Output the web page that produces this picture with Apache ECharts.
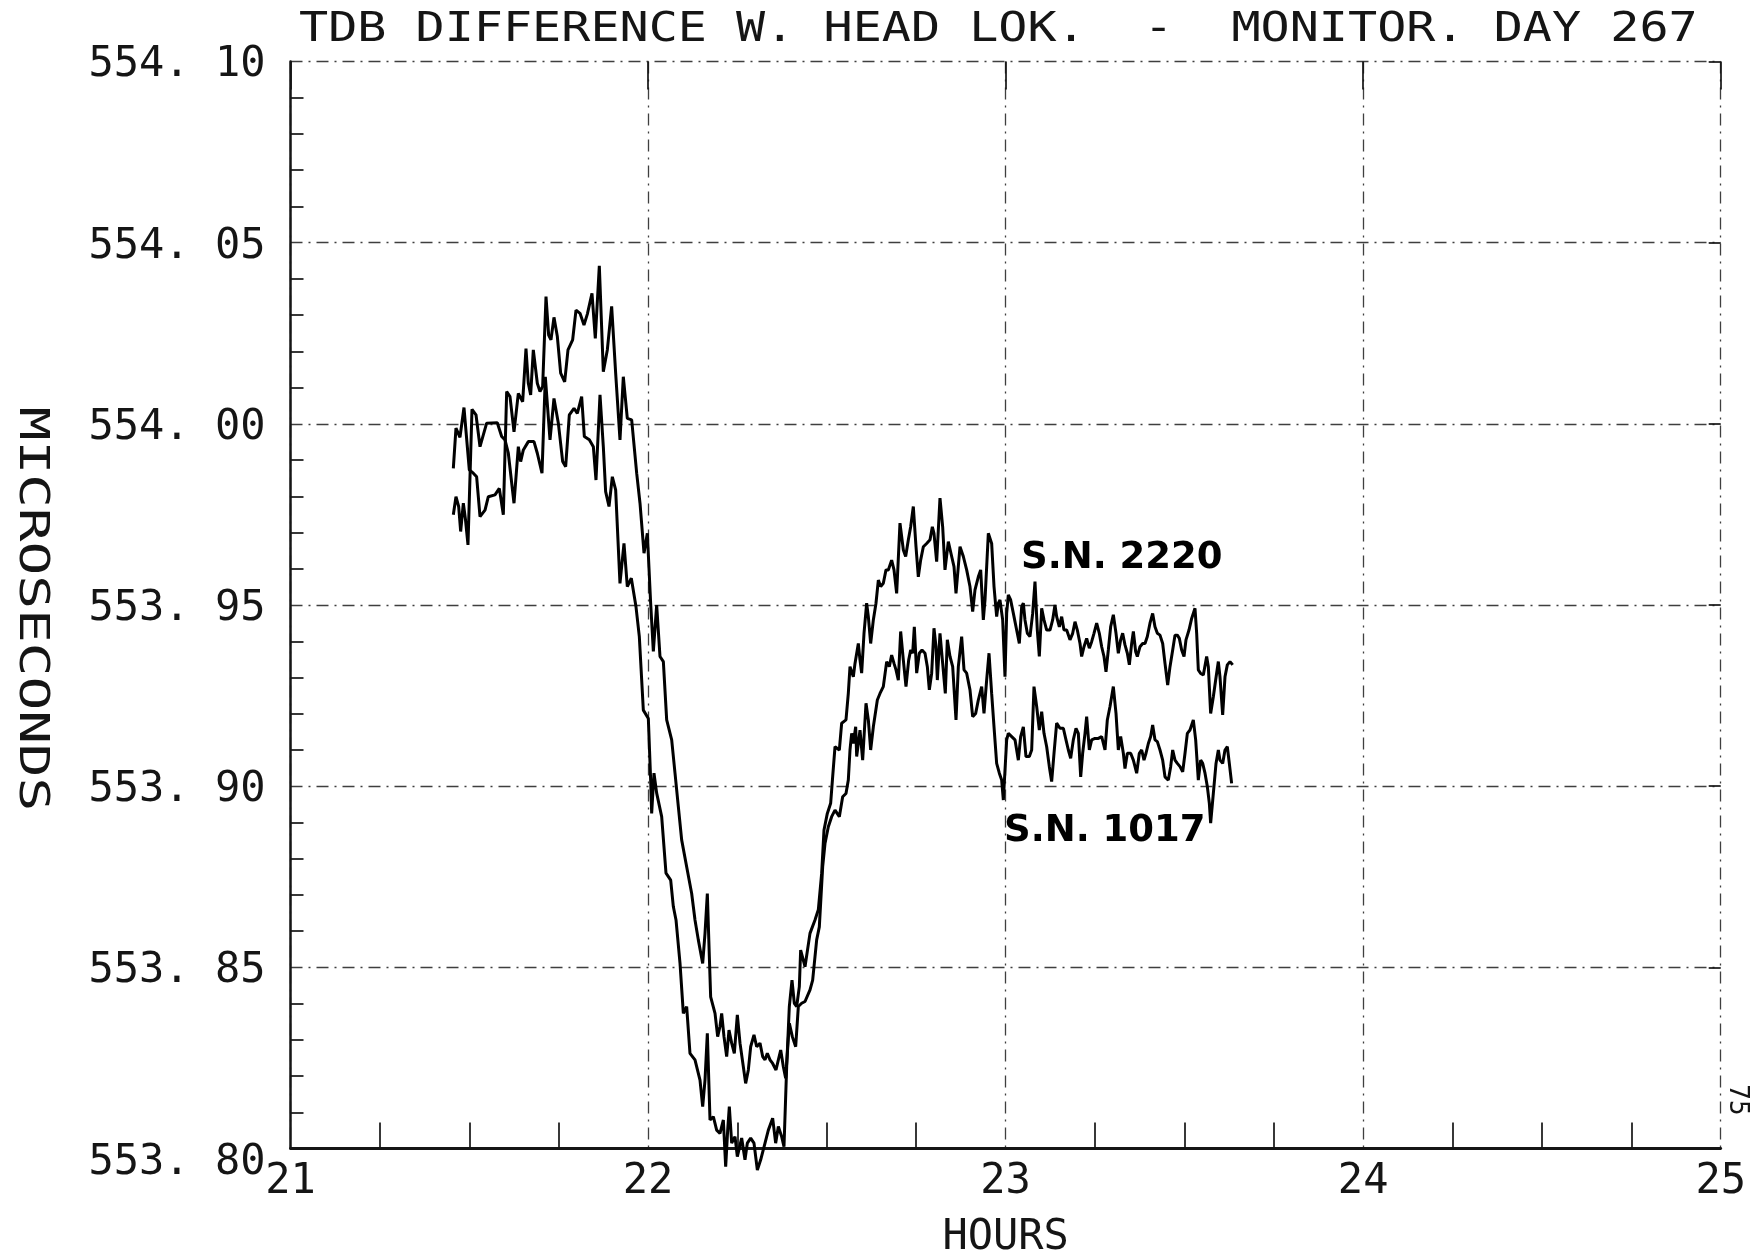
<!DOCTYPE html>
<html>
<head>
<meta charset="utf-8">
<script src="https://cdn.jsdelivr.net/npm/echarts@6/dist/echarts.min.js"></script>
<style>
html,body{margin:0;padding:0;background:#ffffff;}
#chart{width:1752px;height:1251px;}
</style>
</head>
<body>
<div id="chart"></div>
<script>
// ---------------- data ----------------
const titleText = 'TDB DIFFERENCE W. HEAD LOK.  -  MONITOR. DAY 267';
const xAxisTitle = 'HOURS';
const yAxisTitle = 'MICROSECONDS';
const pageNumber = '75';
const xTicks = [21, 22, 23, 24, 25];
const yTicks = [553.80, 553.85, 553.90, 553.95, 554.00, 554.05, 554.10];
const seriesNames = ['S.N. 2220', 'S.N. 1017'];

// [hour, microseconds]
const sn2220 = [
[21.4554,553.9749],[21.4628,553.9799],[21.4703,553.9772],[21.4759,553.9703],[21.4834,553.9781],[21.4890,553.9739],[21.4964,553.9666],[21.5076,554.0040],[21.5188,554.0025],[21.5300,553.9937],[21.5486,554.0002],[21.5784,554.0003],[21.5906,553.9965],[21.5999,553.9956],[21.6092,553.9919],[21.6251,553.9781],[21.6372,553.9937],[21.6437,553.9896],[21.6512,553.9928],[21.6651,553.9951],[21.6810,553.9951],[21.6903,553.9919],[21.7034,553.9864],[21.7127,554.0130],[21.7258,553.9956],[21.7369,554.0070],[21.7491,554.0002],[21.7612,553.9896],[21.7696,553.9882],[21.7798,554.0025],[21.7929,554.0043],[21.8022,554.0029],[21.8143,554.0075],[21.8218,553.9965],[21.8358,553.9956],[21.8470,553.9937],[21.8544,553.9845],[21.8656,554.0080],[21.8749,553.9937],[21.8814,553.9813],[21.8908,553.9772],[21.9001,553.9854],[21.9094,553.9818],[21.9215,553.9560],[21.9327,553.9670],[21.9420,553.9551],[21.9532,553.9574],[21.9663,553.9495],[21.9756,553.9413],
[21.9868,553.9210],[22.0008,553.9187],[22.0073,553.9017],[22.0101,553.8925],[22.0166,553.9036],[22.0241,553.8981],[22.0381,553.8916],[22.0502,553.8760],[22.0633,553.8741],[22.0707,553.8668],[22.0782,553.8631],
[22.0894,553.8511],[22.0987,553.8373],[22.1080,553.8392],[22.1173,553.8263],[22.1313,553.8245],[22.1453,553.8189],[22.1528,553.8116],[22.1593,553.8189],[22.1658,553.8318],[22.1733,553.8079],[22.1826,553.8088],[22.1919,553.8051],[22.2012,553.8042],[22.2106,553.8079],[22.2171,553.7950],[22.2227,553.8051],[22.2273,553.8116],[22.2339,553.8015],[22.2432,553.8033],[22.2497,553.7978],[22.2618,553.8029],[22.2711,553.7969],[22.2777,553.8015],[22.2870,553.8029],[22.2963,553.8015],[22.3057,553.7941],[22.3150,553.7969],[22.3271,553.8015],[22.3364,553.8051],[22.3485,553.8084],[22.3569,553.8015],[22.3644,553.8061],[22.3737,553.8033],[22.3802,553.8005],[22.3877,553.8226],[22.3951,553.8392],[22.4026,553.8465],[22.4091,553.8401],[22.4157,553.8392],[22.4231,553.8447],[22.4268,553.8548],[22.4390,553.8502],
[22.4529,553.8594],[22.4669,553.8631],[22.4762,553.8659],[22.4856,553.8760],[22.4921,553.8879],[22.5014,553.8925],[22.5107,553.8953],[22.5163,553.9026],[22.5229,553.9109],[22.5350,553.9100],[22.5415,553.9174],[22.5536,553.9183],[22.5601,553.9256],[22.5648,553.9330],[22.5741,553.9302],[22.5788,553.9339],[22.5881,553.9394],[22.5928,553.9348],[22.5974,553.9312],[22.6040,553.9422],[22.6114,553.9505],[22.6161,553.9468],[22.6226,553.9394],[22.6301,553.9459],[22.6375,553.9505],[22.6441,553.9569],[22.6506,553.9551],[22.6580,553.9560],[22.6655,553.9597],[22.6720,553.9597],[22.6813,553.9624],[22.6879,553.9597],[22.6953,553.9532],[22.7046,553.9726],[22.7140,553.9652],[22.7205,553.9634],[22.7280,553.9680],[22.7345,553.9716],[22.7419,553.9772],[22.7494,553.9661],[22.7559,553.9578],[22.7624,553.9624],[22.7699,553.9661],[22.7792,553.9670],[22.7886,553.9680],[22.7951,553.9716],[22.7997,553.9698],[22.8072,553.9620],[22.8165,553.9795],[22.8240,553.9716],[22.8305,553.9597],[22.8398,553.9675],[22.8492,553.9634],[22.8557,553.9606],[22.8613,553.9532],[22.8725,553.9661],[22.8818,553.9634],[22.8911,553.9597],[22.9004,553.9551],[22.9079,553.9482],[22.9144,553.9542],[22.9237,553.9578],[22.9303,553.9597],[22.9377,553.9459],[22.9424,553.9514],[22.9517,553.9698],[22.9610,553.9670],
[22.9676,553.9551],[22.9750,553.9468],[22.9797,553.9505],[22.9843,553.9514],[22.9918,553.9459],[22.9983,553.9302],[23.0030,553.9477],[23.0076,553.9528],[23.0142,553.9514],[23.0235,553.9468],[23.0309,553.9431],[23.0384,553.9394],[23.0449,553.9495],[23.0496,553.9505],[23.0542,553.9459],[23.0608,553.9422],[23.0682,553.9413],[23.0757,553.9477],[23.0822,553.9565],[23.0887,553.9431],[23.0943,553.9358],[23.1009,553.9491],[23.1074,553.9459],[23.1149,553.9431],[23.1242,553.9431],[23.1316,553.9459],[23.1381,553.9500],[23.1428,553.9468],[23.1503,553.9440],[23.1568,553.9468],[23.1633,553.9431],[23.1708,553.9431],[23.1801,553.9404],[23.1876,553.9422],[23.1941,553.9454],[23.2006,553.9431],[23.2081,553.9394],[23.2127,553.9358],[23.2193,553.9385],[23.2267,553.9408],[23.2342,553.9381],[23.2407,553.9399],[23.2472,553.9422],[23.2547,553.9450],[23.2621,553.9422],[23.2687,553.9385],[23.2752,553.9358],[23.2808,553.9316],[23.2873,553.9376],[23.2938,553.9440],[23.3013,553.9473],[23.3088,553.9422],[23.3153,553.9367],[23.3218,553.9404],[23.3274,553.9422],[23.3339,553.9390],[23.3405,553.9367],[23.3461,553.9335],[23.3526,553.9394],[23.3573,553.9427],[23.3638,553.9371],[23.3684,553.9358],[23.3759,553.9385],[23.3833,553.9394],[23.3899,553.9394],[23.3964,553.9413],[23.4038,553.9450],[23.4113,553.9477],[23.4178,553.9440],[23.4244,553.9422],[23.4318,553.9417],[23.4393,553.9394],[23.4458,553.9339],[23.4533,553.9279],[23.4598,553.9330],[23.4673,553.9376],[23.4738,553.9417],[23.4803,553.9417],[23.4859,553.9408],[23.4924,553.9376],[23.4990,553.9358],[23.5045,553.9404],[23.5129,553.9431],[23.5204,553.9463],[23.5297,553.9491],[23.5344,553.9422],[23.5390,553.9321],[23.5456,553.9311],[23.5530,553.9307],[23.5623,553.9358],[23.5670,553.9330],[23.5735,553.9201],[23.5810,553.9247],[23.5875,553.9293],[23.5950,553.9344],[23.5996,553.9302],[23.6071,553.9197],[23.6136,553.9302],[23.6201,553.9335],[23.6276,553.9344],[23.6351,553.9335]
];

const sn1017 = [
[21.4554,553.9877],[21.4628,553.9988],[21.4740,553.9963],[21.4852,554.0045],[21.5001,553.9873],[21.5113,553.9864],[21.5206,553.9854],[21.5300,553.9744],[21.5440,553.9762],[21.5533,553.9799],[21.5719,553.9804],[21.5840,553.9822],[21.5952,553.9749],[21.6046,554.0089],[21.6139,554.0075],[21.6251,553.9978],[21.6372,554.0084],[21.6493,554.0061],[21.6586,554.0208],[21.6651,554.0112],[21.6717,554.0080],[21.6791,554.0204],[21.6903,554.0112],[21.6978,554.0089],[21.7052,554.0103],[21.7146,554.0351],[21.7220,554.0245],[21.7285,554.0232],[21.7369,554.0294],[21.7463,554.0241],[21.7556,554.0140],[21.7668,554.0116],[21.7761,554.0204],[21.7891,554.0232],[21.7985,554.0314],[21.8097,554.0305],[21.8208,554.0273],[21.8302,554.0303],[21.8432,554.0360],[21.8525,554.0236],[21.8637,554.0436],[21.8749,554.0144],[21.8861,554.0204],[21.8982,554.0324],[21.9094,554.0140],[21.9215,553.9956],[21.9308,554.0130],[21.9420,554.0015],[21.9542,554.0011],[21.9682,553.9864],[21.9775,553.9781],[21.9887,553.9643],[21.9980,553.9698],[22.0073,553.9505],[22.0148,553.9372],[22.0241,553.9500],[22.0334,553.9358],
[22.0428,553.9344],[22.0521,553.9183],[22.0661,553.9128],[22.0754,553.9036],[22.0847,553.8944],[22.0940,553.8852],[22.1080,553.8778],[22.1220,553.8704],[22.1313,553.8631],
[22.1406,553.8576],[22.1528,553.8511],[22.1593,553.8594],[22.1658,553.8704],[22.1714,553.8530],[22.1751,553.8419],[22.1873,553.8373],[22.1947,553.8309],[22.2012,553.8337],[22.2059,553.8373],[22.2124,553.8309],[22.2199,553.8254],[22.2264,553.8327],[22.2339,553.8291],[22.2413,553.8263],[22.2497,553.8369],[22.2572,553.8291],[22.2665,553.8226],[22.2730,553.8180],[22.2805,553.8217],[22.2870,553.8281],[22.2963,553.8314],[22.3038,553.8281],[22.3131,553.8291],[22.3206,553.8254],[22.3271,553.8245],[22.3336,553.8263],[22.3411,553.8245],[22.3485,553.8235],[22.3578,553.8217],[22.3644,553.8245],[22.3710,553.8272],[22.3784,553.8226],[22.3849,553.8194],[22.3952,553.8346],[22.4035,553.8309],[22.4129,553.8281],[22.4203,553.8392],[22.4296,553.8401],[22.4390,553.8406],[22.4530,553.8438],[22.4604,553.8465],
[22.4716,553.8576],[22.4790,553.8612],[22.4884,553.8778],[22.4949,553.8842],[22.5042,553.8888],[22.5135,553.8916],[22.5229,553.8934],[22.5350,553.8916],[22.5443,553.8971],[22.5536,553.8980],[22.5601,553.9017],[22.5648,553.9100],[22.5695,553.9146],[22.5741,553.9118],[22.5807,553.9164],[22.5835,553.9082],[22.5881,553.9118],[22.5928,553.9155],[22.6002,553.9072],[22.6096,553.9229],[22.6161,553.9183],[22.6226,553.9100],[22.6301,553.9164],[22.6413,553.9238],[22.6487,553.9256],[22.6580,553.9275],[22.6674,553.9344],[22.6748,553.9330],[22.6813,553.9362],[22.6879,553.9339],[22.6935,553.9321],[22.7000,553.9293],[22.7065,553.9427],[22.7140,553.9348],[22.7214,553.9275],[22.7289,553.9348],[22.7345,553.9376],[22.7401,553.9367],[22.7447,553.9440],[22.7513,553.9312],[22.7587,553.9367],[22.7662,553.9376],[22.7746,553.9367],[22.7811,553.9330],[22.7867,553.9266],[22.7932,553.9312],[22.7997,553.9436],[22.8053,553.9385],[22.8091,553.9293],[22.8165,553.9422],[22.8240,553.9339],[22.8314,553.9256],[22.8370,553.9404],[22.8445,553.9358],[22.8520,553.9330],[22.8613,553.9183],[22.8678,553.9330],[22.8771,553.9413],[22.8837,553.9321],[22.8911,553.9312],[22.9004,553.9266],[22.9079,553.9192],[22.9163,553.9201],[22.9237,553.9238],[22.9331,553.9275],[22.9396,553.9201],[22.9470,553.9293],[22.9536,553.9367],[22.9610,553.9256],[22.9676,553.9164],[22.9750,553.9063],[22.9825,553.9036],[22.9890,553.9017],[22.9937,553.8962],
[23.0030,553.9128],[23.0076,553.9146],[23.0170,553.9137],[23.0263,553.9128],[23.0356,553.9072],[23.0421,553.9137],[23.0496,553.9164],[23.0570,553.9082],[23.0664,553.9082],[23.0729,553.9100],[23.0794,553.9275],[23.0869,553.9220],[23.0943,553.9155],[23.1009,553.9206],[23.1074,553.9146],[23.1149,553.9109],[23.1223,553.9054],[23.1288,553.9013],[23.1354,553.9091],[23.1428,553.9174],[23.1521,553.9160],[23.1615,553.9160],[23.1689,553.9128],[23.1755,553.9100],[23.1820,553.9077],[23.1894,553.9128],[23.1969,553.9160],[23.2034,553.9146],[23.2100,553.9026],[23.2155,553.9091],[23.2221,553.9146],[23.2267,553.9192],[23.2342,553.9100],[23.2407,553.9128],[23.2500,553.9132],[23.2594,553.9132],[23.2687,553.9137],[23.2780,553.9100],[23.2845,553.9183],[23.2920,553.9220],[23.3013,553.9275],[23.3088,553.9201],[23.3153,553.9100],[23.3218,553.9137],[23.3293,553.9091],[23.3339,553.9049],[23.3405,553.9091],[23.3498,553.9091],[23.3573,553.9072],[23.3666,553.9036],[23.3740,553.9091],[23.3806,553.9100],[23.3871,553.9072],[23.3927,553.9091],[23.3992,553.9118],[23.4057,553.9137],[23.4113,553.9169],[23.4178,553.9128],[23.4244,553.9123],[23.4318,553.9100],[23.4393,553.9072],[23.4458,553.9026],[23.4551,553.9017],[23.4617,553.9054],[23.4673,553.9100],[23.4738,553.9072],[23.4803,553.9063],[23.4878,553.9054],[23.4953,553.9040],[23.5018,553.9091],[23.5083,553.9146],[23.5157,553.9155],[23.5250,553.9183],[23.5316,553.9128],[23.5390,553.9017],[23.5456,553.9072],[23.5512,553.9063],[23.5577,553.9036],[23.5642,553.8999],[23.5698,553.8953],[23.5735,553.8898],[23.5810,553.8980],[23.5885,553.9063],[23.5950,553.9100],[23.5996,553.9072],[23.6071,553.9063],[23.6136,553.9100],[23.6201,553.9109],[23.6257,553.9063],[23.6322,553.9008]
];

// ---------------- chart ----------------
const MONO = '"DejaVu Sans Mono", "Liberation Mono", monospace';
const INK = '#151515';
const GRID_INK = '#3f3f3f';
const gridLine = {show: true, lineStyle: {color: GRID_INK, width: 1.3, type: [12, 6, 2, 6]}};
const Y_MIN = yTicks[0];

const chart = echarts.init(document.getElementById('chart'), null, {renderer: 'canvas'});

const option = {
  backgroundColor: '#ffffff',
  animation: false,
  grid: {left: 290.5, right: 31.3, top: 61.5, bottom: 102.4, containLabel: false, outerBoundsMode: 'none'},
  xAxis: [{
    type: 'value',
    min: xTicks[0], max: xTicks[xTicks.length - 1], interval: 1,
    name: xAxisTitle, nameLocation: 'middle', nameGap: 68,
    nameTextStyle: {fontFamily: MONO, fontSize: 42, color: INK},
    axisLine: {show: true, onZero: false, lineStyle: {color: INK, width: 2.8}},
    axisTick: {show: false, inside: true},
    minorTick: {show: true, splitNumber: 4, length: 26, lineStyle: {color: INK, width: 1.7}},
    axisLabel: {margin: 12, fontFamily: MONO, fontSize: 42, color: INK, showMinLabel: true, showMaxLabel: true},
    splitLine: gridLine
  }, {
    type: 'value', position: 'top',
    min: xTicks[0], max: xTicks[xTicks.length - 1], interval: 1,
    axisLine: {show: false},
    axisTick: {show: true, inside: true, length: 28, lineStyle: {color: INK, width: 1.7}},
    axisLabel: {show: false},
    splitLine: {show: false}
  }],
  yAxis: [{
    type: 'value',
    min: yTicks[0], max: yTicks[yTicks.length - 1], interval: 0.05,
    axisLine: {show: true, onZero: false, lineStyle: {color: INK, width: 2.5}},
    axisTick: {show: false, inside: true},
    minorTick: {show: true, splitNumber: 5, length: 13, lineStyle: {color: INK, width: 1.7}},
    axisLabel: {
      margin: 25, fontFamily: MONO, fontSize: 42, color: INK, padding: [8, 0, 0, 0],
      showMinLabel: true, showMaxLabel: true,
      formatter: v => {
        const s = v.toFixed(2).replace('.', '. ');
        return Math.abs(v - Y_MIN) < 1e-6 ? '{low|' + s + '}' : s;
      },
      rich: {
        low: {fontFamily: MONO, fontSize: 42, color: INK, padding: [20, 0, 0, 0]}
      }
    },
    splitLine: gridLine
  }, {
    type: 'value', position: 'right',
    min: yTicks[0], max: yTicks[yTicks.length - 1], interval: 0.05,
    axisLine: {show: false},
    axisTick: {show: true, inside: true, length: 12, lineStyle: {color: INK, width: 1.7}},
    axisLabel: {show: false},
    splitLine: {show: false}
  }],
  series: [{
    name: seriesNames[0], type: 'line', xAxisIndex: 0, yAxisIndex: 0,
    data: sn2220, showSymbol: false, symbol: 'none', smooth: false, clip: false,
    lineStyle: {color: '#000', width: 3}, z: 5
  }, {
    name: seriesNames[1], type: 'line', xAxisIndex: 0, yAxisIndex: 0,
    data: sn1017, showSymbol: false, symbol: 'none', smooth: false, clip: false,
    lineStyle: {color: '#000', width: 3}, z: 5
  }],
  graphic: [
    {type: 'text', x: 299, y: 31, scaleX: 1.21,
     style: {text: titleText, font: '40px ' + MONO, fill: INK, align: 'left', verticalAlign: 'middle'}},
    {type: 'text', x: 30, y: 609, rotation: -Math.PI / 2, scaleX: 1.4,
     style: {text: yAxisTitle, font: '40px ' + MONO, fill: INK, align: 'center', verticalAlign: 'middle'}},
    {type: 'text', x: 1021, y: 558,
     style: {text: seriesNames[0], font: 'bold 37px "DejaVu Sans", sans-serif', fill: '#000', align: 'left', verticalAlign: 'middle'}},
    {type: 'text', x: 1004, y: 831,
     style: {text: seriesNames[1], font: 'bold 37px "DejaVu Sans", sans-serif', fill: '#000', align: 'left', verticalAlign: 'middle'}},
    {type: 'text', x: 1737, y: 1100, rotation: -Math.PI / 2,
     style: {text: pageNumber, font: '26px ' + MONO, fill: INK, align: 'center', verticalAlign: 'middle'}}
  ]
};

chart.setOption(option);
</script>
</body>
</html>
